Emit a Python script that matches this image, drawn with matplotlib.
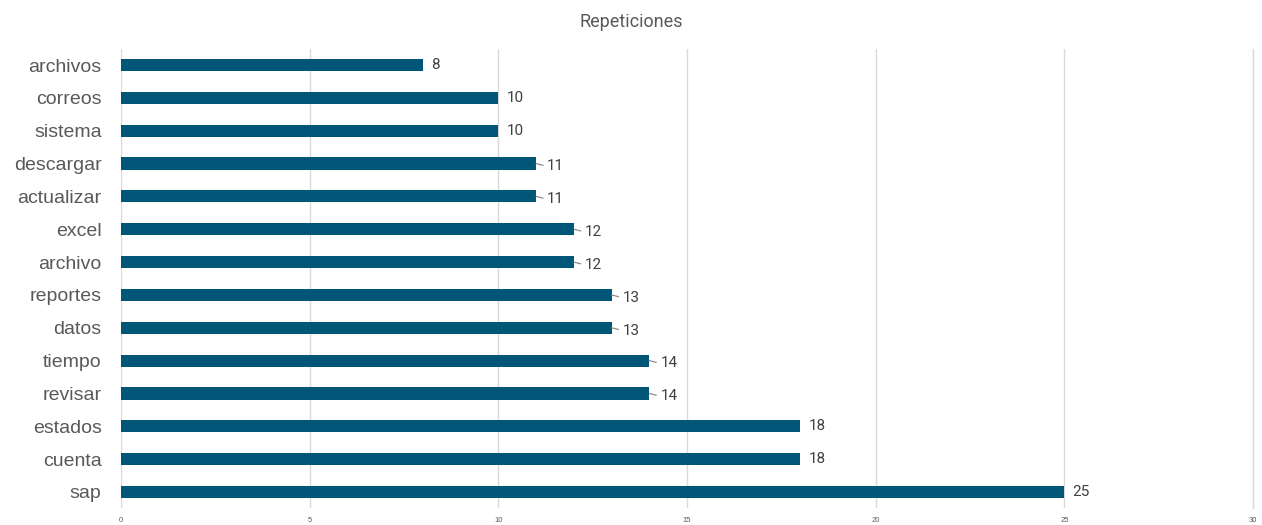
import matplotlib.pyplot as plt

palabras = ["archivos", "correos", "sistema", "descargar", "actualizar", "excel", "archivo",
            "reportes", "datos", "tiempo", "revisar", "estados", "cuenta", "sap"]
repeticiones = [8, 10, 10, 11, 11, 12, 12, 13, 13, 14, 14, 18, 18, 25]
ticks_x = [0, 5, 10, 15, 20, 25, 30]

color_barra = "#005677"
con_guia = {"descargar", "actualizar", "excel", "archivo", "reportes", "datos", "tiempo", "revisar"}

plt.rcParams["font.family"] = ["Liberation Sans", "DejaVu Sans"]

fig = plt.figure(figsize=(12.62, 5.25), dpi=100)
ax = fig.add_axes([0.0959, 0.0316, 0.8970, 0.8758])

pos = list(range(len(palabras)))
ax.barh(pos, repeticiones, height=0.37, color=color_barra, zorder=3)
ax.set_ylim(len(palabras) - 0.5, -0.5)
ax.set_xlim(0, 30)

for y, (p, v) in enumerate(zip(palabras, repeticiones)):
    if p in con_guia:
        ax.annotate(str(v), xy=(v, y), xytext=(8, -2), textcoords="offset points",
                    ha="left", va="center", fontsize=11, color="#404040", family="Roboto",
                    arrowprops=dict(arrowstyle="-", color="#8c8c8c", lw=0.9,
                                    shrinkA=1, shrinkB=0, relpos=(0, 0.5)))
    else:
        ax.annotate(str(v), xy=(v, y), xytext=(6, 0), textcoords="offset points",
                    ha="left", va="center", fontsize=11, color="#404040", family="Roboto")

ax.set_yticks(pos)
ax.set_yticklabels(palabras, fontsize=14, color="#595959")
ax.set_xticks(ticks_x)
ax.set_xticklabels([str(t) for t in ticks_x], fontsize=5.5, color="#595959")
ax.tick_params(axis="both", length=0)
ax.tick_params(axis="x", pad=6)
ax.tick_params(axis="y", pad=14)
ax.grid(axis="x", color="#d9d9d9", lw=1, zorder=0)
ax.set_axisbelow(True)
for s in ax.spines.values():
    s.set_visible(False)
ax.axvline(30, color="#d9d9d9", lw=1, zorder=0, clip_on=False)

fig.text(0.5, 0.958, "Repeticiones", ha="center", va="center", fontsize=13,
         color="#595959", family="Roboto")

fig.savefig("out.png", dpi=100)
